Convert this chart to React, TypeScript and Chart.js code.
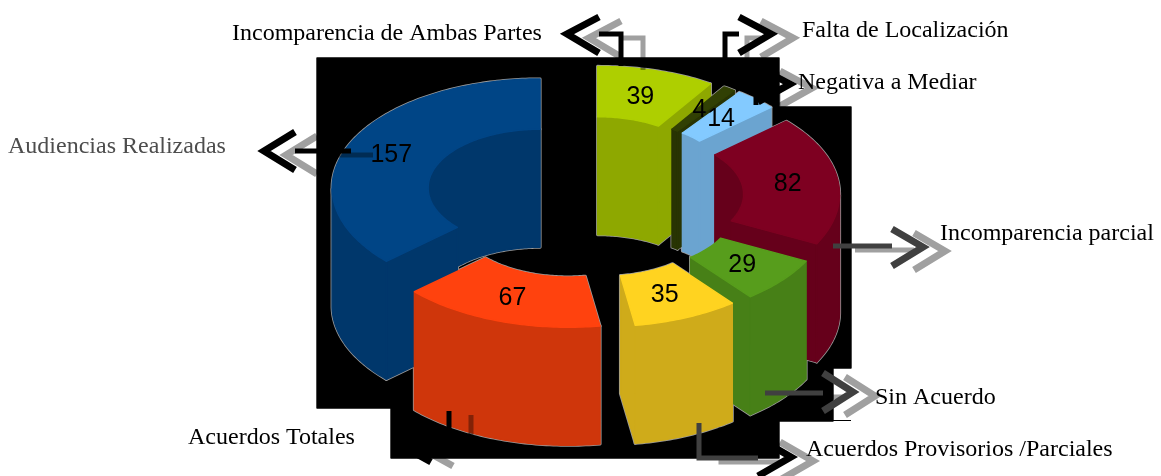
import React, { useEffect, useRef } from "react";
import { Chart, registerables } from "chart.js";

Chart.register(...registerables);

const categories = [
  "Incomparencia de Ambas Partes",
  "Negativa a Mediar (4)",
  "Falta de Localización",
  "Incomparencia parcial",
  "Sin Acuerdo",
  "Acuerdos Provisorios /Parciales",
  "Acuerdos Totales",
  "Audiencias Realizadas",
];
const values = [39, 4, 14, 82, 29, 35, 67, 157];
const topColors = ["#AECF00", "#314004", "#83CAFF", "#7E0021", "#579D1C", "#FFD320", "#FF420E", "#004586"];
const sideColors = ["#8EA800", "#283403", "#6BA4D0", "#66001B", "#478017", "#CFAB1A", "#CF360B", "#00376B"];
const drawOrder = [7, 0, 1, 2, 3, 4, 5, 6];

const VIEW = { tilt: 0.524, explodeTilt: 0.47, depth: 118, explode: 48, shiftY: -41 };

type Arrow = { leader: number[][]; vertex: number[]; arms: number[][]; color: string; leaderColor: string };
const arrows: Arrow[] = [
  { leader: [[295, 151], [351, 151]], vertex: [264, 151], arms: [[295, 132], [295, 170]], color: "#000", leaderColor: "#000" },
  { leader: [[599, 34], [621, 34], [621, 66]], vertex: [567, 34], arms: [[599, 17], [599, 53]], color: "#000", leaderColor: "#000" },
  { leader: [[739, 34], [725, 34], [725, 84]], vertex: [771, 34], arms: [[739, 17], [739, 53]], color: "#000", leaderColor: "#000" },
  { leader: [[759, 84], [756, 84], [756, 105]], vertex: [790, 84], arms: [[758, 67], [758, 102]], color: "#000", leaderColor: "#000" },
  { leader: [[833, 246], [892, 246]], vertex: [923, 247], arms: [[892, 229], [892, 266]], color: "#404040", leaderColor: "#404040" },
  { leader: [[765, 393], [823, 393]], vertex: [853, 392], arms: [[823, 373], [823, 411]], color: "#404040", leaderColor: "#404040" },
  { leader: [[699, 423], [699, 458], [758, 458]], vertex: [791, 457], arms: [[758, 438], [758, 476]], color: "#000", leaderColor: "#404040" },
  { leader: [[449, 411], [449, 451]], vertex: [411, 451], arms: [[449, 432], [431, 462]], color: "#000", leaderColor: "#000" },
];

const labels = [
  { text: "Incomparencia de Ambas Partes", x: 232, y: 34, color: "#000" },
  { text: "Falta de Localización", x: 802, y: 31, color: "#000" },
  { text: "Negativa a Mediar", x: 798, y: 83, color: "#000" },
  { text: "Audiencias Realizadas", x: 8, y: 147, color: "#4d4d4d" },
  { text: "Incomparencia parcial", x: 940, y: 234, color: "#000" },
  { text: "Sin Acuerdo", x: 875, y: 398, color: "#000" },
  { text: "Acuerdos Totales", x: 188, y: 438, color: "#000" },
  { text: "Acuerdos Provisorios /Parciales", x: 806, y: 450, color: "#000" },
];

const backdrop = [
  [317, 58], [779, 58], [779, 107], [851, 107], [851, 368], [833, 368], [833, 421], [779, 421],
  [779, 458], [391, 458], [391, 408], [317, 408],
];

function poly(ctx: CanvasRenderingContext2D, pts: number[][], color: string, rim?: string) {
  ctx.beginPath();
  pts.forEach((p, i) => (i ? ctx.lineTo(p[0], p[1]) : ctx.moveTo(p[0], p[1])));
  ctx.closePath();
  ctx.lineJoin = "round";
  if (rim) {
    ctx.strokeStyle = rim;
    ctx.lineWidth = 3;
    ctx.stroke();
  } else {
    ctx.fillStyle = color;
    ctx.fill();
    ctx.strokeStyle = color;
    ctx.lineWidth = 1.4;
    ctx.stroke();
  }
}

function line(ctx: CanvasRenderingContext2D, pts: number[][], color: string, width: number, dx = 0, dy = 0) {
  ctx.beginPath();
  pts.forEach((p, i) => (i ? ctx.lineTo(p[0] + dx, p[1] + dy) : ctx.moveTo(p[0] + dx, p[1] + dy)));
  ctx.strokeStyle = color;
  ctx.lineWidth = width;
  ctx.lineCap = "butt";
  ctx.lineJoin = "miter";
  ctx.stroke();
}

const pie3d = {
  id: "pie3d",
  beforeDatasetsDraw(chart: any) {
    const ctx: CanvasRenderingContext2D = chart.ctx;
    const meta = chart.getDatasetMeta(0);
    const ds = chart.data.datasets[0];
    ctx.save();
    poly(ctx, backdrop, "#000");
    ctx.fillStyle = "#000";
    ctx.fillRect(833, 420, 18, 1);

    const slices = meta.data.map((arc: any) => {
      const mid = (arc.startAngle + arc.endAngle) / 2;
      const cx = arc.x + VIEW.explode * Math.cos(mid);
      const cy = arc.y + VIEW.shiftY + VIEW.explode * Math.sin(mid) * VIEW.explodeTilt;
      const at = (a: number, r: number, down = 0) => [cx + r * Math.cos(a), cy + r * Math.sin(a) * VIEW.tilt + down];
      const steps = Math.max(2, Math.ceil(((arc.endAngle - arc.startAngle) * 180) / Math.PI));
      const angles: number[] = [];
      for (let i = 0; i <= steps; i++) angles.push(arc.startAngle + ((arc.endAngle - arc.startAngle) * i) / steps);
      return { arc, mid, at, angles };
    });

    const wall = (s: any, r: number, keep: (a: number) => boolean) => {
      const kept = s.angles.filter(keep);
      if (kept.length < 2) return null;
      const top = kept.map((a: number) => s.at(a, r));
      const bottom = kept.slice().reverse().map((a: number) => s.at(a, r, VIEW.depth));
      return top.concat(bottom);
    };
    const radial = (s: any, a: number) => {
      const { innerRadius: ri, outerRadius: ro } = s.arc;
      return [s.at(a, ri), s.at(a, ro), s.at(a, ro, VIEW.depth), s.at(a, ri, VIEW.depth)];
    };
    const topFace = (s: any) => {
      const { innerRadius: ri, outerRadius: ro } = s.arc;
      return s.angles.map((a: number) => s.at(a, ro)).concat(s.angles.slice().reverse().map((a: number) => s.at(a, ri)));
    };
    const faces = (s: any, i: number) => {
      const side = ds.sideColors[i];
      const list: [number[][], string][] = [];
      const inner = wall(s, s.arc.innerRadius, (a) => Math.sin(a) < 0);
      if (inner) list.push([inner, side]);
      const { startAngle, endAngle, outerRadius } = s.arc;
      if (Math.cos(startAngle) < 0) list.push([radial(s, startAngle), side]);
      if (Math.cos(endAngle) > 0) list.push([radial(s, endAngle), side]);
      const outer = wall(s, outerRadius, (a) => Math.sin(a) > 0);
      if (outer) list.push([outer, side]);
      list.push([topFace(s), ds.backgroundColor[i]]);
      return list;
    };

    // pale rim on the backdrop, then the solids back to front
    drawOrder.forEach((i) => faces(slices[i], i).forEach(([pts]) => poly(ctx, pts, "", "#9a9a9a")));
    drawOrder.forEach((i) => faces(slices[i], i).forEach(([pts, color]) => poly(ctx, pts, color)));

    // shadow copies of the callouts
    ctx.globalCompositeOperation = "multiply";
    arrows.forEach((a) => {
      line(ctx, a.leader, "#a0a0a0", 5, 22, 4);
      line(ctx, [a.arms[0], a.vertex, a.arms[1]], "#a0a0a0", 7, 22, 4);
    });
    ctx.globalCompositeOperation = "source-over";
    arrows.forEach((a) => {
      line(ctx, a.leader, a.leaderColor, 5);
      line(ctx, [a.arms[0], a.vertex, a.arms[1]], a.color, 7);
    });

    // value labels
    ctx.fillStyle = "#000";
    ctx.font = '25px "Liberation Sans"';
    ctx.textAlign = "center";
    ctx.textBaseline = "middle";
    slices.forEach((s: any, i: number) => {
      const r = (s.arc.innerRadius + s.arc.outerRadius) / 2;
      const p = s.at(s.mid, r);
      ctx.fillText(String(values[i]), p[0] - 2.5, p[1] + (i === 0 ? 2 : 1));
    });

    // category labels
    ctx.font = '24px "Liberation Serif"';
    ctx.textAlign = "left";
    labels.forEach((l) => {
      ctx.fillStyle = l.color;
      ctx.fillText(l.text, l.x, l.y);
    });
    ctx.restore();
    return false;
  },
};

export default function App() {
  const ref = useRef<HTMLCanvasElement>(null);
  useEffect(() => {
    const chart = new Chart(ref.current!, {
      type: "doughnut",
      data: {
        labels: categories,
        datasets: [{ data: values, backgroundColor: topColors, sideColors, borderWidth: 0 } as any],
      },
      options: {
        responsive: false,
        animation: false,
        cutout: "53.8%",
        layout: { padding: { left: 7, right: 0, top: 30, bottom: 30 } },
        plugins: { legend: { display: false }, tooltip: { enabled: false } },
      },
      plugins: [pie3d],
    });
    return () => chart.destroy();
  }, []);
  return (
    <canvas
      ref={ref}
      width={1161}
      height={476}
      style={{ position: "fixed", left: 0, top: 0, width: 1161, height: 476, display: "block" }}
    />
  );
}
